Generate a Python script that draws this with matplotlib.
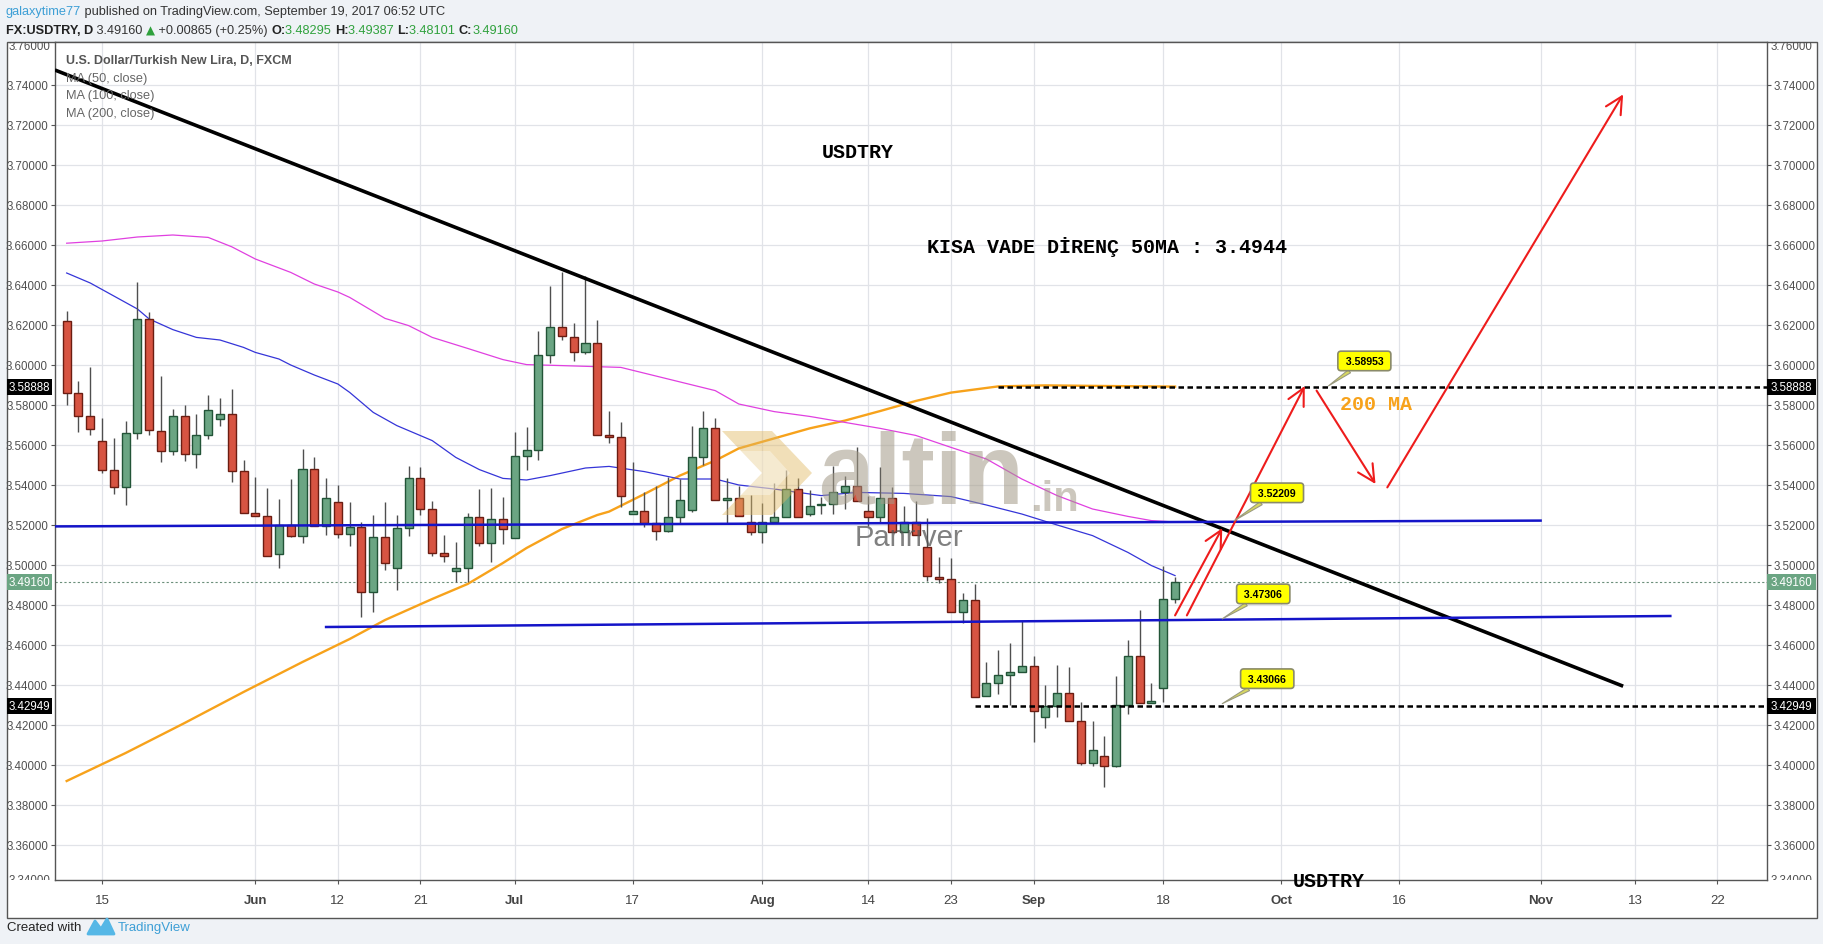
import matplotlib
matplotlib.use("Agg")
import matplotlib.pyplot as plt
from matplotlib.patches import Rectangle, Polygon
import pandas as pd

W, H = 1824, 945

# ---- daily candles FX:USDTRY (May 10 .. Sep 19 2017) ----
candle_dates = pd.bdate_range("2017-05-10", "2017-09-19")
opens = [3.6222, 3.5858, 3.5743, 3.5622, 3.5473, 3.5388, 3.5660, 3.6228, 3.5672, 3.5568,
         3.5743, 3.5553, 3.5648, 3.5728, 3.5753, 3.5468, 3.5258, 3.5243, 3.5053, 3.5202,
         3.5143, 3.5478, 3.5197, 3.5313, 3.5153, 3.5188, 3.4863, 3.5138, 3.4983, 3.5183,
         3.5433, 3.5280, 3.5058, 3.4968, 3.4983, 3.5238, 3.5108, 3.5228, 3.5133, 3.5547,
         3.5577, 3.6052, 3.6188, 3.6138, 3.6063, 3.6108, 3.5650, 3.5638, 3.5253, 3.5268,
         3.5208, 3.5168, 3.5238, 3.5273, 3.5538, 3.5683, 3.5323, 3.5333, 3.5213, 3.5163,
         3.5213, 3.5238, 3.5380, 3.5253, 3.5298, 3.5303, 3.5363, 3.5397, 3.5272, 3.5238,
         3.5333, 3.5163, 3.5217, 3.5092, 3.4942, 3.4928, 3.4763, 3.4823, 3.4347, 3.4408,
         3.4450, 3.4463, 3.4497, 3.4238, 3.4297, 3.4358, 3.4218, 3.4008, 3.4043, 3.3997,
         3.4302, 3.4543, 3.4308, 3.4383, 3.48295]
highs = [3.6268, 3.5922, 3.5988, 3.5733, 3.5633, 3.5718, 3.6413, 3.6263, 3.5943, 3.5780,
         3.5800, 3.5755, 3.5850, 3.5835, 3.5880, 3.5525, 3.5438, 3.5383, 3.5330, 3.5430,
         3.5580, 3.5538, 3.5435, 3.5400, 3.5313, 3.5213, 3.5250, 3.5313, 3.5250, 3.5493,
         3.5488, 3.5318, 3.5150, 3.5113, 3.5258, 3.5380, 3.5383, 3.5338, 3.5663, 3.5688,
         3.6172, 3.6393, 3.6467, 3.6210, 3.6443, 3.6225, 3.5768, 3.5717, 3.5513, 3.5363,
         3.5393, 3.5438, 3.5430, 3.5693, 3.5768, 3.5733, 3.5433, 3.5397, 3.5350, 3.5308,
         3.5408, 3.5477, 3.5435, 3.5375, 3.5338, 3.5493, 3.5443, 3.5588, 3.5347, 3.5488,
         3.5388, 3.5297, 3.5318, 3.5235, 3.5038, 3.5033, 3.4860, 3.4905, 3.4513, 3.4577,
         3.4610, 3.4722, 3.4543, 3.4402, 3.4500, 3.4488, 3.4313, 3.4218, 3.4143, 3.4443,
         3.4627, 3.4777, 3.4408, 3.4997, 3.49387]
lows = [3.5800, 3.5667, 3.5652, 3.5458, 3.5357, 3.5302, 3.5630, 3.5652, 3.5517, 3.5552,
        3.5522, 3.5485, 3.5630, 3.5697, 3.5417, 3.5258, 3.5243, 3.5045, 3.4983, 3.5138,
        3.5108, 3.5197, 3.5152, 3.5133, 3.5097, 3.4740, 3.4767, 3.4977, 3.4877, 3.5147,
        3.5250, 3.5043, 3.5017, 3.4913, 3.4913, 3.5093, 3.5013, 3.5103, 3.5133, 3.5477,
        3.5527, 3.6010, 3.6127, 3.6022, 3.6057, 3.5650, 3.5608, 3.5288, 3.5253, 3.5192,
        3.5127, 3.5163, 3.5210, 3.5263, 3.5502, 3.5323, 3.5210, 3.5243, 3.5152, 3.5108,
        3.5213, 3.5238, 3.5238, 3.5243, 3.5255, 3.5253, 3.5280, 3.5320, 3.5197, 3.5210,
        3.5163, 3.5163, 3.5152, 3.4922, 3.4908, 3.4763, 3.4710, 3.4338, 3.4347, 3.4355,
        3.4300, 3.4463, 3.4117, 3.4183, 3.4238, 3.4218, 3.4002, 3.3997, 3.3888, 3.3988,
        3.4255, 3.4308, 3.4308, 3.4313, 3.48101]
closes = [3.5858, 3.5743, 3.5678, 3.5473, 3.5388, 3.5658, 3.6228, 3.5673, 3.5568, 3.5743,
          3.5553, 3.5648, 3.5773, 3.5753, 3.5468, 3.5258, 3.5243, 3.5045, 3.5202, 3.5143,
          3.5478, 3.5197, 3.5333, 3.5153, 3.5188, 3.4863, 3.5138, 3.5008, 3.5183, 3.5433,
          3.5280, 3.5058, 3.5043, 3.4983, 3.5238, 3.5108, 3.5228, 3.5178, 3.5547, 3.5577,
          3.6052, 3.6188, 3.6143, 3.6063, 3.6108, 3.5650, 3.5638, 3.5343, 3.5268, 3.5208,
          3.5168, 3.5238, 3.5323, 3.5538, 3.5683, 3.5323, 3.5333, 3.5247, 3.5163, 3.5213,
          3.5238, 3.5380, 3.5238, 3.5297, 3.5303, 3.5363, 3.5397, 3.5320, 3.5238, 3.5333,
          3.5163, 3.5217, 3.5152, 3.4943, 3.4928, 3.4763, 3.4823, 3.4338, 3.4408, 3.4450,
          3.4463, 3.4497, 3.4268, 3.4297, 3.4358, 3.4218, 3.4008, 3.4077, 3.3997, 3.4302,
          3.4543, 3.4308, 3.4322, 3.4830, 3.49160]

# ---- moving averages ----
ma50_dates = ["2017-05-10", "2017-05-12", "2017-05-18", "2017-05-19", "2017-05-23", "2017-05-25",
              "2017-05-29", "2017-05-31", "2017-06-01", "2017-06-05", "2017-06-06", "2017-06-08",
              "2017-06-12", "2017-06-13", "2017-06-15", "2017-06-19", "2017-06-22", "2017-06-26",
              "2017-06-28", "2017-06-30", "2017-07-04", "2017-07-06", "2017-07-11", "2017-07-13",
              "2017-07-18", "2017-07-21", "2017-07-26", "2017-07-28", "2017-08-02", "2017-08-08",
              "2017-08-11", "2017-08-17", "2017-08-23", "2017-08-28", "2017-08-31", "2017-09-05",
              "2017-09-08", "2017-09-13", "2017-09-15", "2017-09-19"]
ma50_vals = [3.6460, 3.6410, 3.6280, 3.6230, 3.6177, 3.6138, 3.6125, 3.6088, 3.6063, 3.6030,
             3.6000, 3.5950, 3.5905, 3.5863, 3.5763, 3.5697, 3.5622, 3.5538, 3.5477, 3.5433,
             3.5425, 3.5447, 3.5485, 3.5493, 3.5467, 3.5430, 3.5430, 3.5400, 3.5380, 3.5347,
             3.5363, 3.5358, 3.5342, 3.5300, 3.5255, 3.5200, 3.5147, 3.5063, 3.4997, 3.4947]

ma100_dates = ["2017-05-10", "2017-05-15", "2017-05-18", "2017-05-23", "2017-05-26", "2017-05-30",
               "2017-06-01", "2017-06-06", "2017-06-08", "2017-06-12", "2017-06-13", "2017-06-16",
               "2017-06-20", "2017-06-22", "2017-06-27", "2017-06-30", "2017-07-04", "2017-07-07",
               "2017-07-14", "2017-07-20", "2017-07-26", "2017-07-28", "2017-08-02", "2017-08-07",
               "2017-08-10", "2017-08-15", "2017-08-18", "2017-08-23", "2017-08-28", "2017-08-31",
               "2017-09-05", "2017-09-08", "2017-09-13", "2017-09-15", "2017-09-19"]
ma100_vals = [3.6609, 3.6620, 3.6640, 3.6650, 3.6638, 3.6591, 3.6530, 3.6463, 3.6405, 3.6365,
              3.6338, 3.6233, 3.6197, 3.6138, 3.6083, 3.6027, 3.6002, 3.5997, 3.5988, 3.5930,
              3.5872, 3.5805, 3.5767, 3.5743, 3.5713, 3.5683, 3.5648, 3.5588, 3.5530, 3.5430,
              3.5347, 3.5280, 3.5243, 3.5222, 3.5215]

ma200_dates = ["2017-05-10", "2017-05-17", "2017-05-24", "2017-05-31", "2017-06-07", "2017-06-13",
               "2017-06-16", "2017-06-22", "2017-06-27", "2017-06-30", "2017-07-04", "2017-07-07",
               "2017-07-12", "2017-07-13", "2017-07-18", "2017-07-21", "2017-07-26", "2017-07-28",
               "2017-08-02", "2017-08-07", "2017-08-10", "2017-08-15", "2017-08-18", "2017-08-23",
               "2017-08-29", "2017-09-04", "2017-09-11", "2017-09-19"]
ma200_vals = [3.3920, 3.4060, 3.4210, 3.4365, 3.4515, 3.4630, 3.4725, 3.4830, 3.4905, 3.5010,
              3.5085, 3.5180, 3.5250, 3.5267, 3.5355, 3.5447, 3.5522, 3.5583, 3.5633, 3.5683,
              3.5722, 3.5770, 3.5820, 3.5862, 3.5893, 3.5898, 3.5895, 3.5892]

# ---- drawings on the chart ----
trend_line = [("2017-05-09", 3.7475), ("2017-11-10", 3.4394)]
blue_upper = [("2017-05-09", 3.5193), ("2017-11-01", 3.5222)]
blue_lower = [("2017-06-09", 3.4690), ("2017-11-16", 3.4745)]
resist_level = ("2017-08-29", 3.58888)
support_level = ("2017-08-25", 3.42949)
last_price = 3.49160
red_arrows = [
    (("2017-09-19", 3.4748), ("2017-09-25", 3.5184)),
    (("2017-09-20", 3.4748), ("2017-10-04", 3.5895)),
    (("2017-10-05", 3.5872), ("2017-10-12", 3.5405)),
    (("2017-10-13", 3.5388), ("2017-11-10", 3.7353)),
]
callouts = [("2017-10-06", 3.58953), ("2017-09-26", 3.52209),
            ("2017-09-25", 3.47306), ("2017-09-25", 3.43066)]
callout_offsets = [(36, 25), (43, 28), (41, 25), (45, 25)]

tick_dates = ["2017-05-15", "2017-06-01", "2017-06-12", "2017-06-21", "2017-07-03", "2017-07-17",
              "2017-08-01", "2017-08-14", "2017-08-23", "2017-09-01", "2017-09-18", "2017-10-02",
              "2017-10-16", "2017-11-01", "2017-11-13", "2017-11-22"]
tick_labels = ["15", "Jun", "12", "21", "Jul", "17", "Aug", "14", "23", "Sep", "18", "Oct",
               "16", "Nov", "13", "22"]
price_ticks = [3.36, 3.38, 3.40, 3.42, 3.44, 3.46, 3.48, 3.50, 3.52, 3.54, 3.56, 3.58,
               3.60, 3.62, 3.64, 3.66, 3.68, 3.70, 3.72, 3.74]

# trading-day axis
bdays = pd.bdate_range("2017-05-01", "2017-12-29")
origin = bdays.get_loc(candle_dates[0])


def xpos(d):
    return bdays.get_loc(pd.Timestamp(d)) - origin


def fx(x):
    return x / W


def fy(y):
    return 1 - y / H


SANS = ["Liberation Sans", "DejaVu Sans"]
MONO = ["Liberation Mono", "DejaVu Sans Mono"]
GREEN, RED = "#6ba583", "#d75442"
GREEN_E, RED_E = "#225437", "#6b1d12"

fig = plt.figure(figsize=(W / 100, H / 100), dpi=100, facecolor="#eff2f6")
fig.patches.append(Rectangle((fx(7), fy(919)), (1817 - 7) / W, (919 - 43) / H,
                             transform=fig.transFigure, fc="white", ec="#555555", lw=1, zorder=-1))

ax = fig.add_axes([fx(55), fy(881), (1767 - 55) / W, (881 - 43) / H])
ax.set_facecolor("white")
ax.set_xlim(-0.99, 144.2)
ax.set_ylim(3.3425, 3.7615)

# grid and ticks
ax.set_yticks(price_ticks)
ax.set_yticklabels([f"{p:.5f}" for p in price_ticks])
ax.set_xticks([xpos(d) for d in tick_dates])
ax.set_xticklabels(tick_labels)
for lab, txt in zip(ax.get_xticklabels(), tick_labels):
    lab.set_fontweight("bold" if txt.isalpha() else "normal")
    lab.set_family(SANS)
ax.grid(True, color="#e1e3e8", lw=0.9)
ax.set_axisbelow(True)
ax.tick_params(axis="y", left=True, right=True, labelleft=True, labelright=True,
               length=3, width=0.8, color="#555555", labelsize=8.3, labelcolor="#505050", pad=2)
ax.tick_params(axis="x", length=3, width=0.8, color="#555555", labelsize=9.5,
               labelcolor="#444444", pad=7)
for lab in ax.get_yticklabels():
    lab.set_family(SANS)
for s in ax.spines.values():
    s.set_color("#555555")
    s.set_linewidth(1)

# moving averages
ax.plot([xpos(d) for d in ma200_dates], ma200_vals, color="#f7a21b", lw=1.7, zorder=3)
ax.plot([xpos(d) for d in ma100_dates], ma100_vals, color="#e040e0", lw=0.9, zorder=3)
ax.plot([xpos(d) for d in ma50_dates], ma50_vals, color="#3535d8", lw=0.9, zorder=3)

# candles
for x, o, h, l, c in zip(range(len(candle_dates)), opens, highs, lows, closes):
    up = c >= o
    ax.vlines(x, l, h, color="#4f4f4f", lw=1, zorder=4)
    ax.bar(x, max(abs(c - o), 0.0004), bottom=min(o, c), width=0.68,
           color=GREEN if up else RED, edgecolor=GREEN_E if up else RED_E,
           linewidth=1, zorder=5)

# trend / level lines
ax.plot([xpos(d) for d, _ in trend_line], [p for _, p in trend_line], color="black", lw=2.6,
        zorder=6, solid_capstyle="butt")
for seg in (blue_upper, blue_lower):
    ax.plot([xpos(d) for d, _ in seg], [p for _, p in seg], color="#1414c8", lw=1.8, zorder=6)
ax.axhline(last_price, color="#6b8f7a", lw=0.8, ls=(0, (2, 2)), zorder=2)
for d, p in (resist_level, support_level):
    ax.plot([xpos(d), 150], [p, p], color="black", lw=1.8, ls=(0, (2.2, 1.4)), zorder=6)

# red arrows
for (d0, p0), (d1, p1) in red_arrows:
    ax.annotate("", xy=(xpos(d1), p1), xytext=(xpos(d0), p0),
                arrowprops=dict(arrowstyle="->,head_length=0.55,head_width=0.28",
                                color="#ee1c1c", lw=1.5, mutation_scale=22,
                                shrinkA=0, shrinkB=0), zorder=7)

# yellow price callouts
for (d, p), (ox, oy) in zip(callouts, callout_offsets):
    ax.annotate(f" {p:.5f} ", xy=(xpos(d), p), xytext=(ox, oy), textcoords="offset pixels",
                ha="center", va="center", fontsize=7.6, fontweight="bold", family=SANS,
                bbox=dict(boxstyle="round,pad=0.45,rounding_size=0.3", fc="#ffff00",
                          ec="#8a8a6a", lw=1.2),
                arrowprops=dict(arrowstyle="wedge,tail_width=0.35,shrink_factor=0.5",
                                fc="#d8d860", ec="#9a9a80", lw=0.8, shrinkA=0, shrinkB=0),
                zorder=8)

# chart texts
ax.text(xpos("2017-08-08"), 3.7115, "USDTRY", family=MONO, fontweight="bold", fontsize=14.4,
        ha="left", va="top", zorder=8)
ax.text(xpos("2017-08-21"), 3.6645, "KISA VADE DİRENÇ 50MA : 3.4944", family=MONO,
        fontweight="bold", fontsize=14.4, ha="left", va="top", zorder=8)
ax.text(xpos("2017-10-09"), 3.5855, "200 MA", family=MONO, fontweight="bold", fontsize=14.4,
        color="#f7a21b", ha="left", va="top", zorder=8)
ax.text(xpos("2017-10-03"), 3.3470, "USDTRY", family=MONO, fontweight="bold", fontsize=14.4,
        ha="left", va="top", zorder=8)

# watermark
fig.patches.append(Polygon([(fx(722), fy(432)), (fx(772), fy(432)), (fx(812), fy(474)),
                            (fx(772), fy(516)), (fx(722), fy(516)), (fx(762), fy(474))],
                           closed=True, transform=fig.transFigure, fc="#e0b862", alpha=0.45,
                           ec="none", zorder=10))
fig.patches.append(Polygon([(fx(740), fy(452)), (fx(770), fy(452)), (fx(790), fy(474)),
                            (fx(770), fy(496)), (fx(740), fy(496)), (fx(760), fy(474))],
                           closed=True, transform=fig.transFigure, fc="white", alpha=0.35,
                           ec="none", zorder=10))
fig.text(fx(818), fy(478), "altin", family=SANS, fontweight="bold", fontsize=72,
         color="#a39a87", alpha=0.55, va="center", ha="left", zorder=10)
fig.text(fx(1030), fy(500), ".in", family=SANS, fontweight="bold", fontsize=30,
         color="#a39a87", alpha=0.55, va="center", ha="left", zorder=10)
fig.text(fx(855), fy(538), "Panriver", family=SANS, fontsize=21,
         color="#555555", alpha=0.75, va="center", ha="left", zorder=10)

# legend
fig.text(fx(66), fy(61), "U.S. Dollar/Turkish New Lira, D, FXCM", fontweight="bold",
         fontsize=9, color="#555555", va="center", family=SANS, zorder=9)
for k, s in enumerate(["MA (50, close)", "MA (100, close)", "MA (200, close)"]):
    fig.text(fx(66), fy(79 + 17.5 * k), s, fontsize=9.2, color="#666666",
             va="center", family=SANS, zorder=9)

# axis price labels
for p, bg in ((resist_level[1], "black"), (last_price, GREEN), (support_level[1], "black")):
    ypix = H - ax.transData.transform((0, p))[1]
    for x0, x1 in ((7, 52), (1767, 1816)):
        fig.patches.append(Rectangle((fx(x0), fy(ypix + 8)), (x1 - x0) / W, 16 / H,
                                     transform=fig.transFigure, fc=bg, ec="none", zorder=5))
    fig.text(fx(50), fy(ypix), f"{p:.5f}", family=SANS, fontsize=8.3, color="white",
             ha="right", va="center", zorder=6)
    fig.text(fx(1771), fy(ypix), f"{p:.5f}", family=SANS, fontsize=8.3, color="white",
             ha="left", va="center", zorder=6)

# clipped edge labels (3.76 / 3.34)
clip = Rectangle((fx(7), fy(881)), (1817 - 7) / W, (881 - 43) / H, transform=fig.transFigure)
for p, ypix in ((3.76, 47), (3.34, 881)):
    for xx, ha in ((50, "right"), (1771, "left")):
        t = fig.text(fx(xx), fy(ypix), f"{p:.5f}", family=SANS, fontsize=8.3, color="#505050",
                     ha=ha, va="center")
        t.set_clip_path(clip)

# header
renderer = fig.canvas.get_renderer()


def chain(x, y, parts):
    for s, kw in parts:
        style = dict(va="center", ha="left", fontsize=9.2, family=SANS)
        style.update(kw)
        t = fig.text(fx(x), fy(y), s, **style)
        x += t.get_window_extent(renderer).width
    return x


chain(6, 12, [("galaxytime77", dict(color="#3d9fd6")),
              (" published on TradingView.com, September 19, 2017 06:52 UTC", dict(color="#333333"))])
val_green = "#2fa13c"
chain(6, 31, [("FX:USDTRY, D", dict(color="#222222", fontweight="bold")),
              (" 3.49160 ", dict(color="#333333")),
              ("\u25b2", dict(color=val_green, fontsize=8.5, family=["DejaVu Sans"])),
              (" +0.00865 (+0.25%) ", dict(color="#333333")),
              ("O:", dict(color="#222222", fontweight="bold")),
              ("3.48295 ", dict(color=val_green)),
              ("H:", dict(color="#222222", fontweight="bold")),
              ("3.49387 ", dict(color=val_green)),
              ("L:", dict(color="#222222", fontweight="bold")),
              ("3.48101 ", dict(color=val_green)),
              ("C:", dict(color="#222222", fontweight="bold")),
              ("3.49160", dict(color=val_green))])

# footer
fig.text(fx(7), fy(928), "Created with", fontsize=9.5, color="#222222", va="center", family=SANS)
fig.patches.append(Polygon([(fx(88), fy(935)), (fx(95), fy(922)), (fx(101), fy(930)),
                            (fx(107), fy(920)), (fx(114), fy(935))],
                           closed=True, transform=fig.transFigure, fc="#55b7e6", ec="#55b7e6",
                           lw=2, joinstyle="round"))
fig.text(fx(118), fy(928), "TradingView", fontsize=9.5, color="#3d9fd6", va="center", family=SANS)

fig.savefig("out.png", dpi=100, facecolor=fig.get_facecolor())
